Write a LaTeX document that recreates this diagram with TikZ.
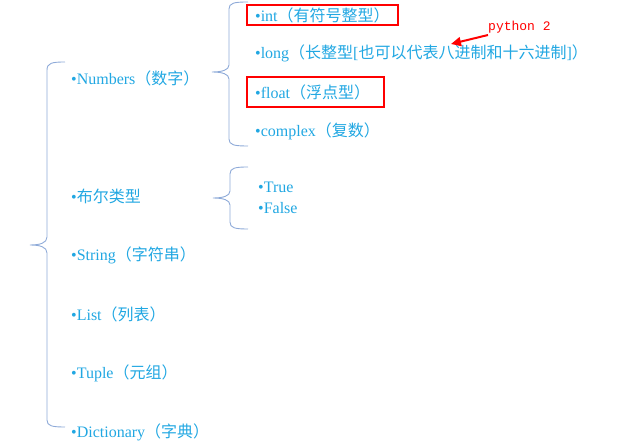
\documentclass[tikz,border=0pt]{standalone}
\usepackage{fontspec}
\setmainfont{Liberation Serif}
\newfontfamily\cjk{Noto Sans CJK SC}
\newfontfamily\monof{Liberation Mono}
\usetikzlibrary{arrows.meta}
\definecolor{txtblue}{HTML}{21A7E2}
\definecolor{brace}{HTML}{8EAAD8}
\tikzset{
  item/.style={anchor=west, inner sep=0pt, text=txtblue, font=\fontsize{16}{18}\selectfont},
  redbox/.style={draw=red, line width=1.4pt},
  bracepath/.style={draw=brace, line width=0.9pt},
}
\begin{document}
\begin{tikzpicture}[x=1pt,y=-1pt]
\useasboundingbox (0,0) rectangle (625,446);
% main brace
\draw[bracepath] (65,62) .. controls (52,62) and (47,63) .. (47,70) -- (47,237)
  .. controls (47,243) and (40,245) .. (30,245)
  .. controls (40,245) and (47,247) .. (47,253) -- (47,420)
  .. controls (47,426) and (52,427) .. (65,427);
% numbers brace
\draw[bracepath] (248,2) .. controls (234,2) and (229,3) .. (229,9) -- (229,65)
  .. controls (229,70) and (222,72) .. (212,72)
  .. controls (222,72) and (229,74) .. (229,79) -- (229,139)
  .. controls (229,145) and (234,146) .. (248,146);
% bool brace
\draw[bracepath] (248,167) .. controls (235,167) and (230,168) .. (230,174) -- (230,191)
  .. controls (230,196) and (223,198) .. (213,198)
  .. controls (223,198) and (230,200) .. (230,205) -- (230,222)
  .. controls (230,228) and (235,229) .. (248,229);

\node[item] (numbers) at (71,78) {•Numbers{\cjk （数字）}};
\node[item] (bool) at (71,196) {•{\cjk 布尔类型}};
\node[item] (string) at (71,255) {•String{\cjk （字符串）}};
\node[item] (list) at (71,314) {•List{\cjk （列表）}};
\node[item] (tuple) at (71,373) {•Tuple{\cjk （元组）}};
\node[item] (dict) at (71,432) {•Dictionary{\cjk （字典）}};

\node[item] (int) at (255,15) {•int{\cjk （有符号整型）}};
\node[item] (long) at (255,53) {•long{\cjk （长整型}[{\cjk 也可以代表八进制和十六进制}]{\cjk ）}};
\node[item] (float) at (255,92) {•float{\cjk （浮点型）}};
\node[item] (complex) at (255,131) {•complex{\cjk （复数）}};

\node[item] (true) at (258,187) {•True};
\node[item] (false) at (258,208) {•False};

\draw[redbox] (247,5) rectangle (398,25);
\draw[redbox] (247,77) rectangle (384,107);

\node[anchor=west, inner sep=0pt, text=red, font=\monof\fontsize{13}{14}\selectfont] (py) at (488,27) {python 2};
\coordinate (pytail) at (488,35);
\coordinate (pyhead) at (451,44);
\draw[red, line width=2pt, -{Triangle[length=10pt,width=9pt]}] (pytail) -- (pyhead);
\end{tikzpicture}
\end{document}
